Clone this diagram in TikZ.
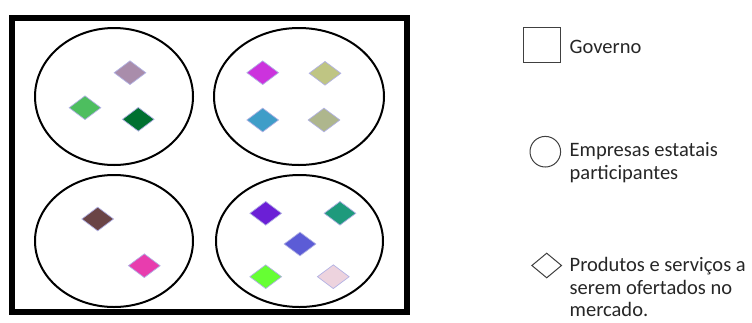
\documentclass[tikz,border=0pt]{standalone}
\usepackage{fontspec}
\setmainfont{Carlito}
\usetikzlibrary{shapes.geometric}
\definecolor{cA}{HTML}{A98DAB}
\definecolor{cB}{HTML}{4DBE5F}
\definecolor{cC}{HTML}{007030}
\definecolor{cD}{HTML}{CC33DD}
\definecolor{cE}{HTML}{BFC583}
\definecolor{cF}{HTML}{3F9DC8}
\definecolor{cG}{HTML}{AEB68D}
\definecolor{cH}{HTML}{6A4446}
\definecolor{cI}{HTML}{E83DAE}
\definecolor{cJ}{HTML}{6B1FD6}
\definecolor{cK}{HTML}{1E9A7C}
\definecolor{cL}{HTML}{5C5CD6}
\definecolor{cM}{HTML}{66FF33}
\definecolor{cN}{HTML}{EDD3DE}
\definecolor{txt}{HTML}{262626}
\tikzset{
  prod/.style={diamond, draw=black!35!blue!30, line width=0.7pt, fill=#1, minimum width=32pt, minimum height=24pt, inner sep=0pt},
  emp/.style={ellipse, draw=black, line width=2pt, inner sep=0pt},
  legtxt/.style={anchor=base west, inner sep=0pt, text=txt, font=\fontsize{20.5}{22.5}\selectfont},
  legshape/.style={draw=black!75, line width=1pt, inner sep=0pt, fill=white}
}
\begin{document}
\begin{tikzpicture}[x=1pt,y=-1pt]
\useasboundingbox (0,0) rectangle (752,322);
% government
\node[draw=black, line width=5.5pt, minimum width=395pt, minimum height=294.4pt, inner sep=0pt] (gov) at (209.7,165) {};
% companies
\node[emp, minimum width=158pt, minimum height=137pt] (e1) at (114,96.5) {};
\node[emp, minimum width=170pt, minimum height=137pt] (e2) at (299,96.5) {};
\node[emp, minimum width=158pt, minimum height=132pt] (e3) at (114,241) {};
\node[emp, minimum width=167pt, minimum height=132pt] (e4) at (299.5,241) {};
% products
\node[prod=cA] (p1) at (130,72.7) {};
\node[prod=cB] (p2) at (85,107.7) {};
\node[prod=cC] (p3) at (138.3,119.3) {};
\node[prod=cD] (p4) at (262.7,72.7) {};
\node[prod=cE] (p5) at (325,73.3) {};
\node[prod=cF] (p6) at (262.7,120) {};
\node[prod=cG] (p7) at (324,120) {};
\node[prod=cH] (p8) at (97.7,219) {};
\node[prod=cI] (p9) at (144.3,265.7) {};
\node[prod=cJ] (p10) at (265.7,213.3) {};
\node[prod=cK] (p11) at (340,213.3) {};
\node[prod=cL] (p12) at (300,244) {};
\node[prod=cM] (p13) at (265.7,276.7) {};
\node[prod=cN] (p14) at (333.3,276.7) {};
% legend
\node[legshape, rectangle, minimum width=36.7pt, minimum height=35.4pt] (lg) at (541.7,45) {};
\node[legtxt] (tg) at (569.5,53.3) {Governo};
\node[legshape, circle, minimum size=30.6pt] (le) at (545.3,151.7) {};
\node[legtxt] (te1) at (569.5,156.7) {Empresas estatais};
\node[legtxt] (te2) at (569.5,179) {participantes};
\node[legshape, diamond, minimum width=30pt, minimum height=25pt] (lp) at (546.7,265.5) {};
\node[legtxt] (tp1) at (569.5,271.5) {Produtos e serviços a};
\node[legtxt] (tp2) at (569.5,294) {serem ofertados no};
\node[legtxt] (tp3) at (569.5,316) {mercado.};
\end{tikzpicture}
\end{document}
